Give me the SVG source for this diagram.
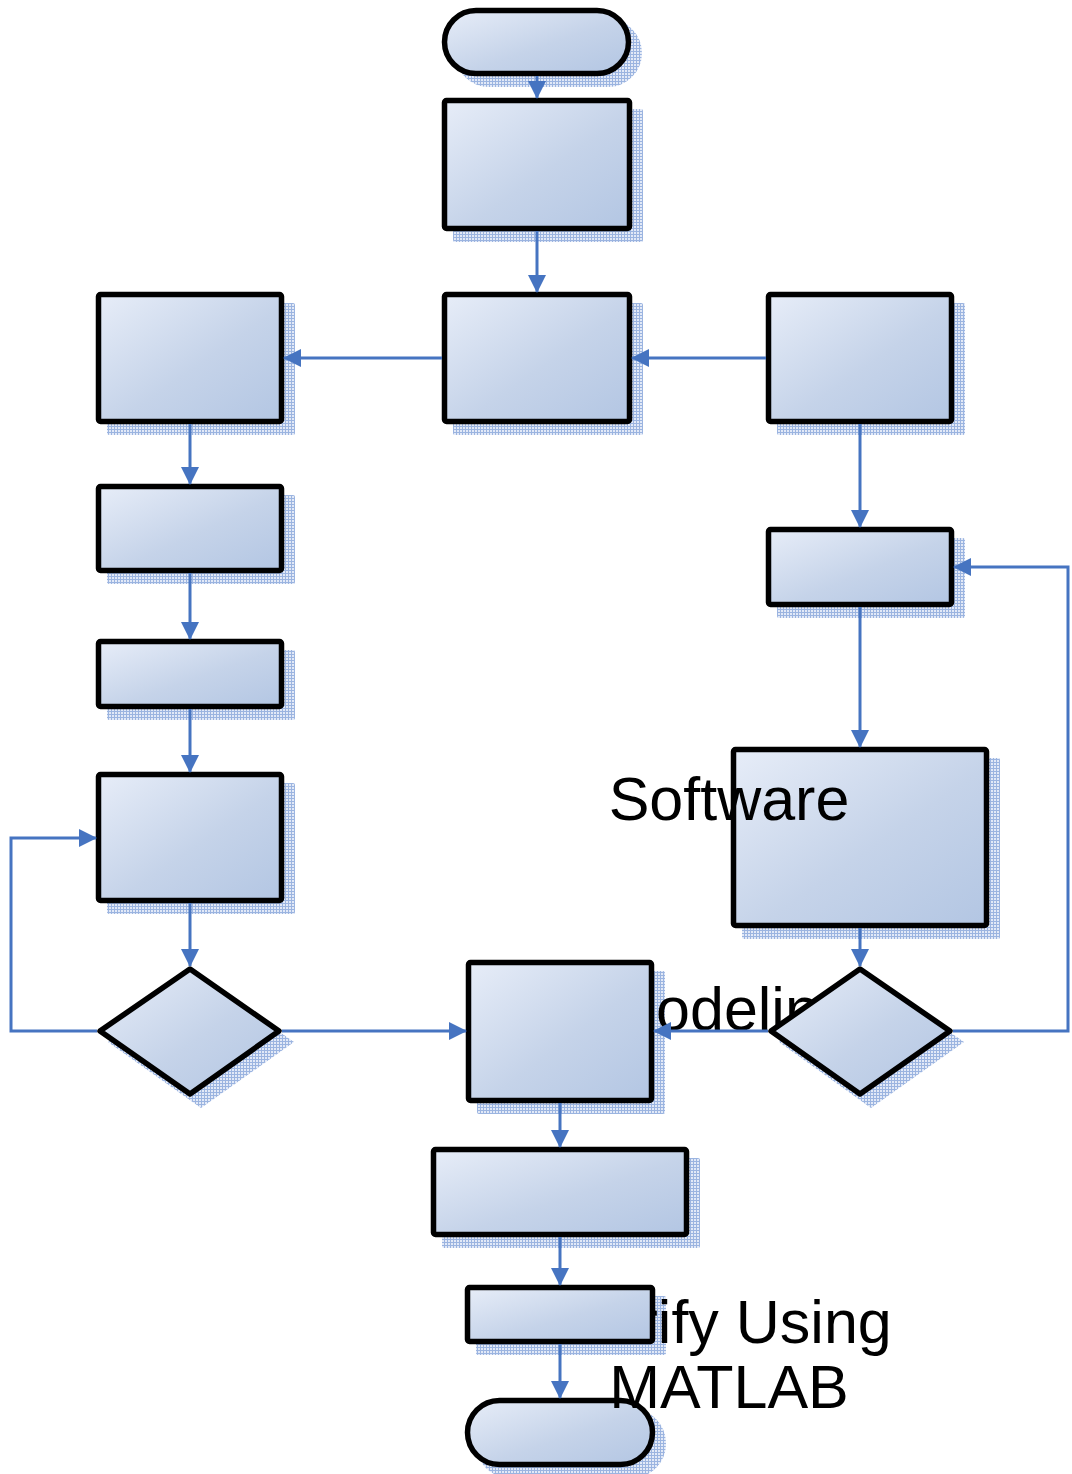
<svg xmlns="http://www.w3.org/2000/svg" width="1072" height="1474" viewBox="0 0 1072 1474">
  <style>
    .body { fill: url(#fillGrad); stroke: #000; stroke-width: 5.5; stroke-linejoin: round; }
    .shadow { fill: url(#meshShadow); }
    .conn { fill: none; stroke: #4674c1; stroke-width: 3; }
    .label { font-family: "Liberation Sans", Arial, sans-serif; font-size: 61px; fill: #000; text-anchor: middle; }
  </style>
  <defs>
    <linearGradient id="fillGrad" x1="0" y1="0" x2="1" y2="1">
      <stop offset="0" stop-color="#e7edf8"/>
      <stop offset="0.55" stop-color="#c5d3e9"/>
      <stop offset="1" stop-color="#b3c6e3"/>
    </linearGradient>
    <pattern id="meshShadow" width="3" height="3" patternUnits="userSpaceOnUse">
      <rect width="3" height="3" fill="#e2e9f7"/>
      <path d="M0 0.5H3M0.5 0V3" stroke="#9bb4e0" stroke-width="1"/>
    </pattern>
    <marker id="arrow" viewBox="0 0 18 18" refX="17" refY="9" markerWidth="18" markerHeight="18" markerUnits="userSpaceOnUse" orient="auto">
      <path d="M0 0L18 9L0 18Z" fill="#4674c1"/>
    </marker>
  </defs>

  <!-- drop shadows, offset down-right -->
  <g id="shadows">
    <rect class="shadow" x="455" y="19" width="187" height="68" rx="34"/>
    <rect class="shadow" x="453" y="109" width="190" height="133" rx="2"/>
    <rect class="shadow" x="453" y="303" width="190" height="132" rx="2"/>
    <rect class="shadow" x="107" y="303" width="188" height="132" rx="2"/>
    <rect class="shadow" x="777" y="303" width="188" height="132" rx="2"/>
    <rect class="shadow" x="107" y="495" width="188" height="89" rx="2"/>
    <rect class="shadow" x="107" y="650" width="188" height="70" rx="2"/>
    <rect class="shadow" x="107" y="783" width="188" height="131" rx="2"/>
    <rect class="shadow" x="777" y="538" width="188" height="80" rx="2"/>
    <rect class="shadow" x="742" y="758" width="258" height="181" rx="2"/>
    <polygon class="shadow" points="201,977 294,1042 201,1108 108,1042"/>
    <polygon class="shadow" points="871,977 964,1042 871,1108 779,1042"/>
    <rect class="shadow" x="477" y="971" width="188" height="143" rx="2"/>
    <rect class="shadow" x="442" y="1158" width="258" height="90" rx="2"/>
    <rect class="shadow" x="476" y="1296" width="190" height="59" rx="2"/>
    <rect class="shadow" x="476" y="1409" width="190" height="69" rx="34"/>
  </g>

  <!-- labels that sit behind the shapes -->
  <g id="label-modeling"><text class="label" x="729" y="1030">Modeling</text></g>
  <g id="label-verify"><text class="label" x="729" y="1343">Verify Using</text></g>

  <!-- nodes -->
  <g id="start"><rect class="body" x="444.5" y="10.5" width="184" height="63" rx="31.5"/></g>
  <g id="step1"><rect class="body" x="444.5" y="100.5" width="185" height="128" rx="2"/></g>
  <g id="step2"><rect class="body" x="444.5" y="294.5" width="185" height="127" rx="2"/></g>
  <g id="left1"><rect class="body" x="98.5" y="294.5" width="183" height="127" rx="2"/></g>
  <g id="left2"><rect class="body" x="98.5" y="486.5" width="183" height="84" rx="2"/></g>
  <g id="left3"><rect class="body" x="98.5" y="641.5" width="183" height="65" rx="2"/></g>
  <g id="left4"><rect class="body" x="98.5" y="774.5" width="183" height="126" rx="2"/></g>
  <g id="left-decision"><polygon class="body" points="190,969 279,1031 190,1094 100,1031"/></g>
  <g id="right1"><rect class="body" x="768.5" y="294.5" width="183" height="127" rx="2"/></g>
  <g id="right2"><rect class="body" x="768.5" y="529.5" width="183" height="75" rx="2"/></g>
  <g id="software"><rect class="body" x="733.5" y="749.5" width="253" height="176" rx="2"/></g>
  <g id="right-decision"><polygon class="body" points="860,969 950,1031 860,1094 771,1031"/></g>
  <g id="merge"><rect class="body" x="468.5" y="962.5" width="183" height="138" rx="2"/></g>
  <g id="step-wide"><rect class="body" x="433.5" y="1149.5" width="253" height="85" rx="2"/></g>
  <g id="verify"><rect class="body" x="467.5" y="1287.5" width="185" height="54" rx="2"/></g>
  <g id="end"><rect class="body" x="467.5" y="1400.5" width="185" height="64" rx="32"/></g>

  <!-- labels drawn over the shapes -->
  <g id="label-software"><text class="label" x="729" y="820">Software</text></g>
  <g id="label-matlab"><text class="label" x="729" y="1408">MATLAB</text></g>

  <!-- connectors -->
  <g id="connectors">
    <path class="conn" marker-end="url(#arrow)" d="M537 76V98"/>
    <path class="conn" marker-end="url(#arrow)" d="M537 231V292"/>
    <path class="conn" marker-end="url(#arrow)" d="M442 358H284"/>
    <path class="conn" marker-end="url(#arrow)" d="M766 358H632"/>
    <path class="conn" marker-end="url(#arrow)" d="M190 424V484"/>
    <path class="conn" marker-end="url(#arrow)" d="M190 573V639"/>
    <path class="conn" marker-end="url(#arrow)" d="M190 709V772"/>
    <path class="conn" marker-end="url(#arrow)" d="M190 903V966"/>
    <path class="conn" marker-end="url(#arrow)" d="M97 1031H11V838H96"/>
    <path class="conn" marker-end="url(#arrow)" d="M282 1031H466"/>
    <path class="conn" marker-end="url(#arrow)" d="M860 424V527"/>
    <path class="conn" marker-end="url(#arrow)" d="M860 607V747"/>
    <path class="conn" marker-end="url(#arrow)" d="M860 928V966"/>
    <path class="conn" marker-end="url(#arrow)" d="M953 1031H1068V567H954"/>
    <path class="conn" marker-end="url(#arrow)" d="M768 1031H654"/>
    <path class="conn" marker-end="url(#arrow)" d="M560 1103V1147"/>
    <path class="conn" marker-end="url(#arrow)" d="M560 1237V1285"/>
    <path class="conn" marker-end="url(#arrow)" d="M560 1344V1398"/>
  </g>
</svg>
